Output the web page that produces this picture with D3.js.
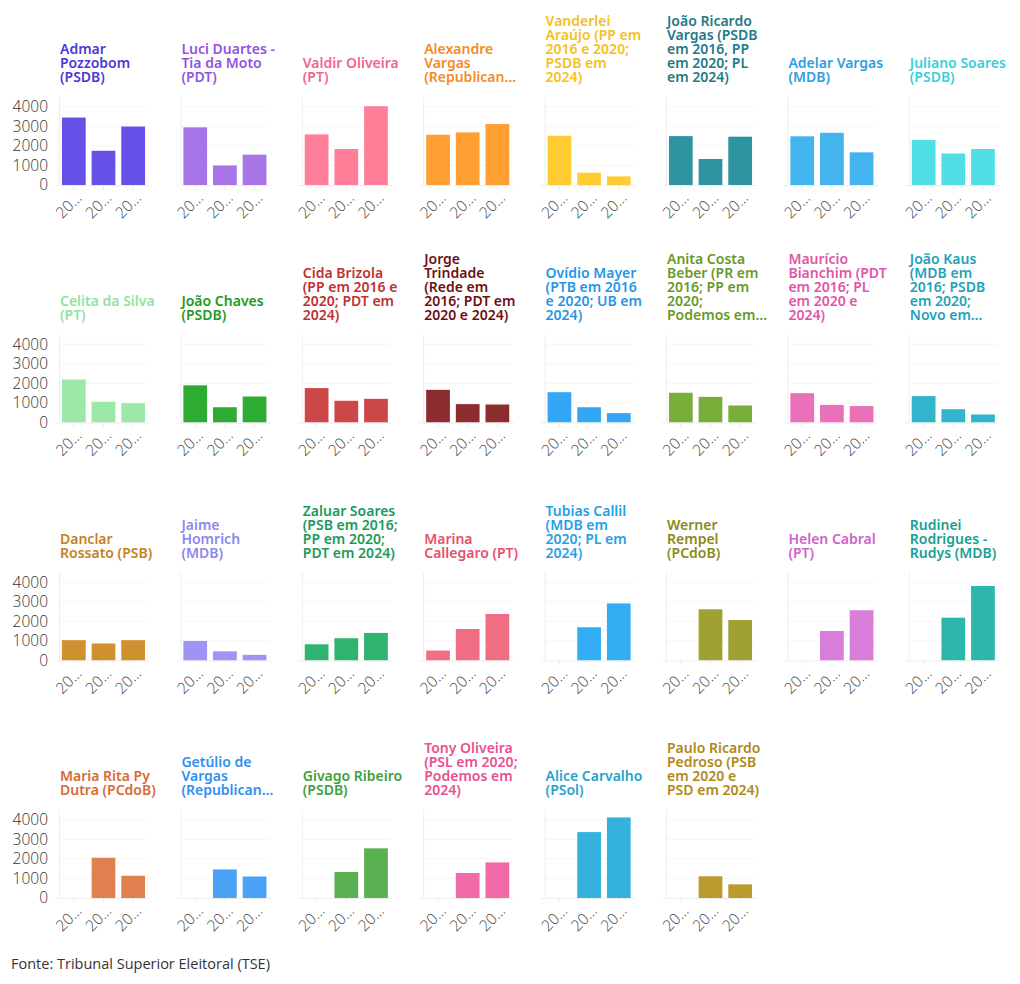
<!DOCTYPE html>
<html>
<head>
<meta charset="utf-8">
<script src="https://cdn.jsdelivr.net/npm/d3@7"></script>
<style>
  html, body { margin: 0; padding: 0; background: #fff; }
  svg { display: block; }
</style>
</head>
<body>
<svg id="chart" width="1020" height="984"></svg>
<script>
// ---- data ----
const years = ["2016", "2020", "2024"];

const candidates = [
  "Admar\nPozzobom\n(PSDB)",
  "Luci Duartes -\nTia da Moto\n(PDT)",
  "Valdir Oliveira\n(PT)",
  "Alexandre\nVargas\n(Republican…",
  "Vanderlei\nAraújo (PP em\n2016 e 2020;\nPSDB em\n2024)",
  "João Ricardo\nVargas (PSDB\nem 2016, PP\nem 2020; PL\nem 2024)",
  "Adelar Vargas\n(MDB)",
  "Juliano Soares\n(PSDB)",
  "Celita da Silva\n(PT)",
  "João Chaves\n(PSDB)",
  "Cida Brizola\n(PP em 2016 e\n2020; PDT em\n2024)",
  "Jorge\nTrindade\n(Rede em\n2016; PDT em\n2020 e 2024)",
  "Ovídio Mayer\n(PTB em 2016\ne 2020; UB em\n2024)",
  "Anita Costa\nBeber (PR em\n2016; PP em\n2020;\nPodemos em…",
  "Maurício\nBianchim (PDT\nem 2016; PL\nem 2020 e\n2024)",
  "João Kaus\n(MDB em\n2016; PSDB\nem 2020;\nNovo em…",
  "Danclar\nRossato (PSB)",
  "Jaime\nHomrich\n(MDB)",
  "Zaluar Soares\n(PSB em 2016;\nPP em 2020;\nPDT em 2024)",
  "Marina\nCallegaro (PT)",
  "Tubias Callil\n(MDB em\n2020; PL em\n2024)",
  "Werner\nRempel\n(PCdoB)",
  "Helen Cabral\n(PT)",
  "Rudinei\nRodrigues -\nRudys (MDB)",
  "Maria Rita Py\nDutra (PCdoB)",
  "Getúlio de\nVargas\n(Republican…",
  "Givago Ribeiro\n(PSDB)",
  "Tony Oliveira\n(PSL em 2020;\nPodemos em\n2024)",
  "Alice Carvalho\n(PSol)",
  "Paulo Ricardo\nPedroso (PSB\nem 2020 e\nPSD em 2024)"
];

// votes per candidate: [2016, 2020, 2024] (null = not a candidate)
const votes = [
  [3450, 1750, 2990],
  [2950, 1000, 1550],
  [2590, 1840, 4030],
  [2570, 2690, 3120],
  [2520, 630, 440],
  [2500, 1330, 2470],
  [2490, 2670, 1670],
  [2300, 1610, 1840],
  [2200, 1060, 990],
  [1900, 780, 1330],
  [1760, 1110, 1210],
  [1670, 940, 920],
  [1550, 780, 480],
  [1520, 1310, 870],
  [1500, 900, 840],
  [1350, 680, 410],
  [1040, 870, 1040],
  [1000, 470, 290],
  [830, 1140, 1410],
  [510, 1610, 2380],
  [null, 1700, 2920],
  [null, 2620, 2070],
  [null, 1510, 2570],
  [null, 2190, 3810],
  [null, 2060, 1140],
  [null, 1460, 1100],
  [null, 1330, 2540],
  [null, 1280, 1820],
  [null, 3370, 4120],
  [null, 1110, 700]
];

const colors = [
  "#6550e8", "#a775e8", "#ff7f99", "#ff9e33", "#ffcc33", "#2e94a0", "#44b4ee", "#50dfe6",
  "#9be8a8", "#2eab33", "#cc4848", "#8b2c2e", "#33a6f5", "#7aae3b", "#ea70ba", "#32b4cc",
  "#cf9130", "#9d94f5", "#2fb46f", "#f06e84", "#33aef5", "#9fa132", "#d87dd8", "#2fb6aa",
  "#e08050", "#4aa2f7", "#5ab152", "#f06aa8", "#32b2dc", "#bb9a30"
];

const titleColors = [
  "#4b38d8", "#9254de", "#f0668a", "#f58a1f", "#f5c01a", "#1d7a86", "#2f9ee0", "#38d0da",
  "#8ee59c", "#229a22", "#c0302f", "#6e1010", "#1f96e8", "#68992a", "#e154a8", "#1da2b8",
  "#c4811c", "#8c86ee", "#1a9a5a", "#e8506a", "#1fa0e8", "#8a8a15", "#cf62cc", "#17a090",
  "#d86a35", "#3090f0", "#40a040", "#e8508f", "#1fa4cc", "#b08818"
];

const yTicks = [0, 1000, 2000, 3000, 4000];
const source = "Fonte: Tribunal Superior Eleitoral (TSE)";

// ---- layout ----
const svg = d3.select("#chart");
const nCols = 8;
const colX0 = 59, colStep = 121.4;
const plotW = 89, plotH = 88;
const baselines = [185, 422.5, 660.5, 898];
const fontTitle = "'Noto Sans', 'Open Sans', sans-serif";
const fontAxis = "'Open Sans', 'Noto Sans', sans-serif";

const y = d3.scaleLinear().domain([0, 4500]).range([plotH, 0]);
const x = d3.scaleBand().domain(years).range([0, plotW]).paddingInner(0.2).paddingOuter(0.1);

candidates.forEach((name, i) => {
  const col = i % nCols, row = Math.floor(i / nCols);
  const gx = colX0 + col * colStep;
  const gy = baselines[row] - plotH;
  const g = svg.append("g").attr("transform", `translate(${gx},${gy})`);

  // faint grid
  g.append("g").selectAll("line").data(yTicks.slice(1)).join("line")
    .attr("x1", 0).attr("x2", plotW)
    .attr("y1", d => y(d)).attr("y2", d => y(d))
    .attr("stroke", "#f6f6f6").attr("stroke-width", 1);

  // left domain line
  g.append("line").attr("x1", 0.5).attr("x2", 0.5).attr("y1", 0).attr("y2", plotH)
    .attr("stroke", "#eeeeee");

  // y axis labels (first column only)
  if (col === 0) {
    const ya = g.append("g").call(d3.axisLeft(y).tickValues(yTicks).tickSize(0).tickPadding(11).tickFormat(d3.format("d")));
    ya.select(".domain").remove();
    ya.selectAll("text").attr("font-family", fontAxis).attr("font-size", 15.5)
      .attr("font-weight", 300).attr("fill", "#333");
  }

  // bars
  const data = years.map((yr, k) => ({ yr, v: votes[i][k] })).filter(d => d.v != null);
  g.append("g").selectAll("rect").data(data).join("rect")
    .attr("x", d => x(d.yr)).attr("width", x.bandwidth())
    .attr("y", d => y(d.v)).attr("height", d => plotH - y(d.v))
    .attr("fill", colors[i]);

  // x axis
  const xa = g.append("g").attr("transform", `translate(0,${plotH})`)
    .call(d3.axisBottom(x).tickSize(5).tickPadding(4).tickFormat(d => d.slice(0, 2) + "…"));
  xa.select(".domain").attr("stroke", "#eeeeee").attr("d", `M-4,0.5H${plotW + 2}`);
  xa.selectAll(".tick line").attr("stroke", "#eeeeee");
  xa.selectAll("text")
    .attr("font-family", fontAxis).attr("font-size", 15.5).attr("font-weight", 300)
    .attr("fill", "#444")
    .attr("text-anchor", "end")
    .attr("transform", "translate(5,10) rotate(-45)")
    .attr("dy", "0.35em").attr("y", 0).attr("x", 0);

  // title (bottom-aligned)
  const lines = name.split("\n");
  const lh = 14;
  const lastBase = plotH - 103;
  const t = g.append("text")
    .attr("font-family", fontTitle).attr("font-size", 14).attr("font-weight", 600)
    .attr("fill", titleColors[i]);
  lines.forEach((ln, k) => {
    t.append("tspan").attr("x", 1).attr("y", lastBase - (lines.length - 1 - k) * lh).text(ln);
  });
});

svg.append("text").attr("x", 11).attr("y", 969)
  .attr("font-family", fontAxis).attr("font-size", 14.5).attr("fill", "#333")
  .text(source);
</script>
</body>
</html>
